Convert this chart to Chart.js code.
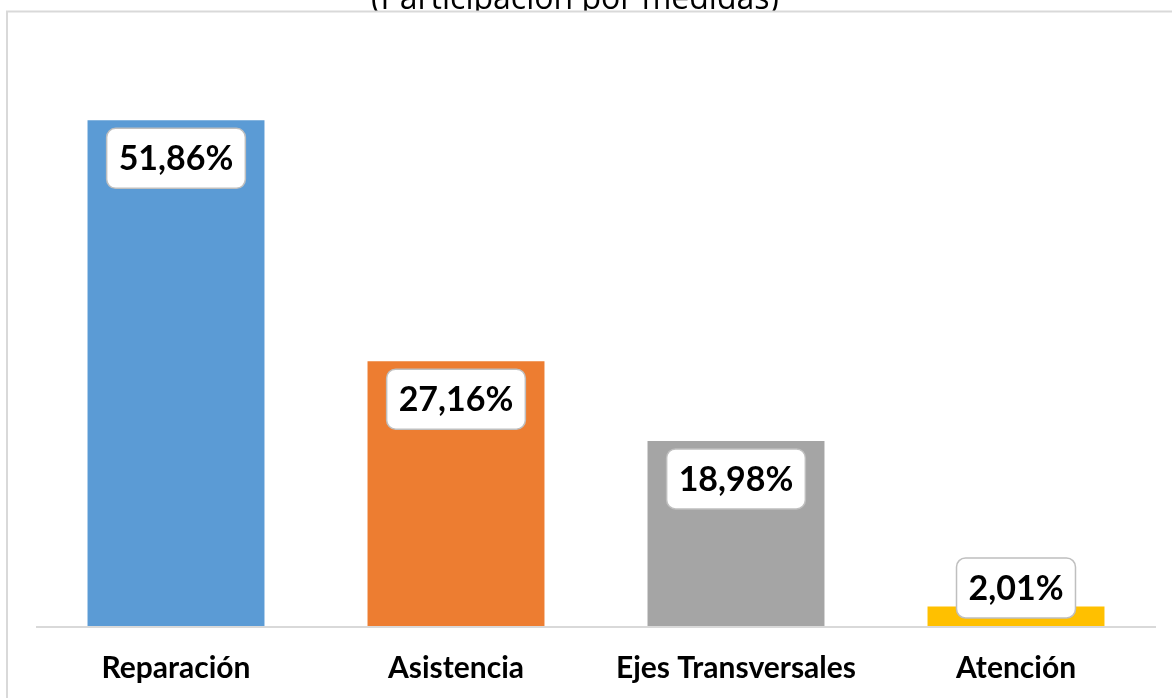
<!DOCTYPE html>
<html>
<head>
<meta charset="utf-8">
<script src="https://cdn.jsdelivr.net/npm/chart.js@4.4.0/dist/chart.umd.min.js"></script>
<style>
  html, body { margin: 0; padding: 0; background: #fff; }
  canvas { display: block; }
</style>
</head>
<body>
<canvas id="medidasChart" width="1172" height="698"></canvas>
<script>
// data
var categories = ["Reparación", "Asistencia", "Ejes Transversales", "Atención"];
var shares = [51.86, 27.16, 18.98, 2.01];
var barColors = ["#5B9BD5", "#ED7D31", "#A5A5A5", "#FFC000"];
var titleText = "(Participación por medidas)";

// title sits above the frame, its lower part hidden by the white plot box
var frameBox = {
    id: "frameBox",
    beforeDraw: function (chart) {
        var ctx = chart.ctx;
        ctx.save();
        ctx.fillStyle = "#000";
        ctx.font = "32px 'Open Sans'";
        ctx.textAlign = "center";
        ctx.textBaseline = "alphabetic";
        ctx.fillText(titleText, 575, 9);
        ctx.fillStyle = "#fff";
        ctx.fillRect(6, 11, 1180, 700);
        ctx.strokeStyle = "#D9D9D9";
        ctx.lineWidth = 2;
        ctx.strokeRect(7, 11.5, 1180, 700);
        ctx.restore();
    },
    // baseline only across the plot area
    beforeDatasetsDraw: function (chart) {
        var ctx = chart.ctx;
        var a = chart.chartArea;
        ctx.save();
        ctx.strokeStyle = "#D9D9D9";
        ctx.lineWidth = 2;
        ctx.beginPath();
        ctx.moveTo(a.left, a.bottom + 1);
        ctx.lineTo(a.right, a.bottom + 1);
        ctx.stroke();
        ctx.restore();
    }
};

// white rounded boxes with the percentage inside each bar
var valueBoxes = {
    id: "valueBoxes",
    afterDatasetsDraw: function (chart) {
        var ctx = chart.ctx;
        var meta = chart.getDatasetMeta(0);
        ctx.save();
        ctx.font = "bold 34px Lato";
        ctx.textAlign = "center";
        ctx.textBaseline = "middle";
        meta.data.forEach(function (bar, i) {
            var txt = shares[i].toFixed(2).replace(".", ",") + "%";
            var w = ctx.measureText(txt).width + 24;
            var h = 60;
            var top = Math.min(bar.y + 8, bar.base - 8 - h);
            var left = bar.x - w / 2;
            ctx.beginPath();
            ctx.roundRect(left, top, w, h, 9);
            ctx.fillStyle = "#fff";
            ctx.fill();
            ctx.lineWidth = 1.5;
            ctx.strokeStyle = "#BFBFBF";
            ctx.stroke();
            ctx.fillStyle = "#000";
            ctx.fillText(txt, bar.x, top + h / 2 + 1);
        });
        ctx.restore();
    }
};

var ctx = document.getElementById("medidasChart").getContext("2d");
var myChart = new Chart(ctx, {
    type: "bar",
    data: {
        labels: categories,
        datasets: [{
            data: shares,
            backgroundColor: barColors,
            borderWidth: 0,
            categoryPercentage: 1,
            barPercentage: 0.632
        }]
    },
    options: {
        responsive: false,
        animation: false,
        layout: { padding: { left: 36, right: 16, top: 41, bottom: 0 } },
        plugins: {
            legend: { display: false },
            tooltip: { enabled: false }
        },
        scales: {
            x: {
                grid: { display: false, drawTicks: false },
                border: { display: false },
                ticks: {
                    color: "#000",
                    padding: 24,
                    font: { family: "Lato", weight: "bold", size: 30 }
                },
                afterFit: function (scale) { scale.height = 72; }
            },
            y: {
                display: false,
                min: 0,
                max: 60
            }
        }
    },
    plugins: [frameBox, valueBoxes]
});
</script>
</body>
</html>
